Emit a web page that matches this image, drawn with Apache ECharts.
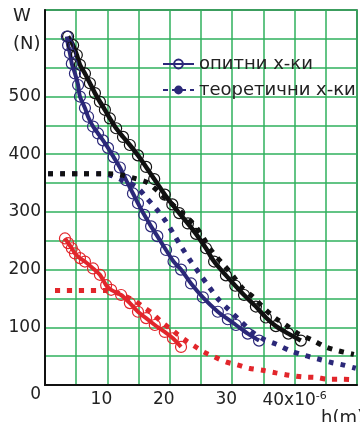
<!DOCTYPE html>
<html><head><meta charset="utf-8">
<script src="https://cdn.jsdelivr.net/npm/echarts@6/dist/echarts.min.js"></script>
<style>html,body{margin:0;padding:0;background:#fff}#c{width:360px;height:422px}</style>
</head><body><div id="c"></div>
<script>
// experimental (опитни) – black
const blackExpH = [3.7,4.5,5.1,5.6,6.4,7.2,8.0,8.8,9.6,10.4,11.4,12.5,13.6,14.9,16.2,17.5,19.2,20.4,21.5,22.9,24.2,25.8,27.1,29.0,30.5,31.9,33.8,35.4,37.0,39.0,41.0];
const blackExpW = [604,589,572,555,540,523,506,491,477,462,445,430,416,398,378,357,330,313,298,280,262,237,214,190,172,156,136,117,102,89,77];
// experimental – navy
const navyExpH = [3.5,3.7,4.0,4.3,4.8,5.3,5.6,6.4,6.9,7.7,8.5,9.3,10.1,11.0,12.0,13.0,14.1,14.9,15.9,17.0,18.0,19.4,20.6,21.8,23.4,25.3,27.7,29.3,30.6,32.5,34.3];
const navyExpW = [604,589,575,557,540,520,500,480,465,448,436,424,411,395,377,355,332,315,295,275,258,234,214,200,176,152,127,114,104,89,77];
// experimental – red
const redExpH = [3.2,3.7,4.3,4.8,5.6,6.4,7.7,8.8,9.8,10.6,12.2,13.6,14.9,16.2,17.6,19.2,20.5,21.8];
const redExpW = [254,246,237,228,220,214,202,191,173,165,156,142,127,116,104,92,81,66];
// theoretical (теоретични) – black
const blackTheoH = [0.5,3,6,8.8,10.4,12.2,14.4,16.4,18.2,19.9,22.3,24.2,26.8,28.4,30.0,31.6,33.5,35.1,36.9,38.6,40.4,42.8,45.0,47.1,49.5];
const blackTheoW = [366,366,366,366,366,364,358,351,335,318,295,274,231,211,191,168,151,133,116,104,90,78,66,59,53];
// theoretical – navy
const navyTheoH = [0.5,3,6,9,10.4,12.4,14.7,16.3,18.0,19.4,20.7,22.0,23.4,24.7,26.3,27.9,29.5,31.4,33.2,35.1,37.0,39.4,41.7,43.8,45.9,47.7,49.8];
const navyTheoW = [366,366,366,366,364,355,343,324,303,283,260,237,214,194,170,147,130,110,92,79,71,59,51,45,39,35,29];
// theoretical – red
const redTheoH = [1.6,3,5,7,8.5,10,11.5,13,14.2,15.8,17.1,18.7,19.9,21.2,22.7,24.3,25.5,27.1,29.0,30.8,32.7,35.1,37.0,39.1,41.2,43.4,45.5,47.6,49.8];
const redTheoW = [164,164,164,164,164,164,160,153,147,135,125,109,99,88,76,65,57,49,40,35,29,25,21,17,14,13,10,10,9];

const xLabels = {10:'10',20:'20',30:'30',40:'40x10'};
const yLabels = {0:'0',100:'100',200:'200',300:'300',400:'400',500:'500'};
const legendNames = ['опитни х-ки','теоретични х-ки'];

const NAVY = '#2b2879', BLACK = '#111111', RED = '#e2262b';
const FONT = 'DejaVu Sans';
const zip = (a,b) => a.map((v,i)=>[v,b[i]]);

function expSeries(name, color, h, w, width){
  return {type:'line', name:name, data:zip(h,w), smooth:0.3,
    symbol:'circle', symbolSize:11, showSymbol:true,
    lineStyle:{color:color, width:width},
    itemStyle:{color:'rgba(0,0,0,0)', borderColor:color, borderWidth:1.2},
    z:2, silent:true};
}
function theoSeries(name, color, h, w){
  return {type:'line', name:name, data:zip(h,w), smooth:0.3, symbol:'none',
    lineStyle:{color:color, width:5, type:[5,7], cap:'butt'}, z:3, silent:true};
}

const chart = echarts.init(document.getElementById('c'), null, {renderer:'canvas'});
chart.setOption({
  animation:false,
  backgroundColor:'#fff',
  title:[
    {text:'W\n(N)', left:8, top:-3, textStyle:{fontFamily:FONT, fontSize:18, fontWeight:'normal', color:'#222', lineHeight:28}},
    {text:'h(m)', left:316, top:404, textStyle:{fontFamily:FONT, fontSize:18, fontWeight:'normal', color:'#222'}}
  ],
  legend:{
    data:legendNames, orient:'vertical', left:157, top:50, itemWidth:31, itemHeight:11, itemGap:8,
    textStyle:{fontFamily:FONT, fontSize:18, color:'#222'}, selectedMode:false
  },
  grid:{left:45, right:2, top:10, bottom:37, show:true, borderColor:'#333', borderWidth:1.5},
  xAxis:{type:'value', min:0, max:50, interval:5,
    axisLine:{show:true, lineStyle:{color:'#111', width:2}},
    axisTick:{show:false},
    splitLine:{show:true, lineStyle:{color:'#2fb05c', width:1.5}},
    axisLabel:{margin:6, fontFamily:FONT, fontSize:17, color:'#222',
      formatter:v => { if(!xLabels[v]) return ''; return v===40 ? '{b|'+xLabels[v]+'}{s|-6}' : '{a|'+xLabels[v]+'}'; },
      rich:{a:{fontFamily:FONT, fontSize:17, color:'#222', padding:[0,12,0,0]},
            b:{fontFamily:FONT, fontSize:17, color:'#222'},
            s:{fontFamily:FONT, fontSize:11, color:'#222', verticalAlign:'top', padding:[0,0,8,0]}}}
  },
  yAxis:{type:'value', min:0, max:650, interval:50,
    axisLine:{show:true, lineStyle:{color:'#111', width:2}},
    axisTick:{show:false},
    splitLine:{show:true, lineStyle:{color:'#2fb05c', width:1.5}},
    axisLabel:{margin:4, fontFamily:FONT, fontSize:17, color:'#222',
      formatter:v => (yLabels[v] === undefined) ? '' : (v===0 ? '{z|0}' : yLabels[v]),
      rich:{z:{fontFamily:FONT, fontSize:17, color:'#222', padding:[20,0,0,0]}}}
  },
  series:[
    expSeries('b1', BLACK, blackExpH, blackExpW, 4.5),
    expSeries('n1', NAVY, navyExpH, navyExpW, 4),
    expSeries('r1', RED, redExpH, redExpW, 4),
    theoSeries('r2', RED, redTheoH, redTheoW),
    theoSeries('n2', NAVY, navyTheoH, navyTheoW),
    theoSeries('b2', BLACK, blackTheoH, blackTheoW),
    {type:'line', name:legendNames[0], data:[], symbol:'circle', symbolSize:11,
      lineStyle:{color:NAVY, width:5}, itemStyle:{color:'rgba(0,0,0,0)', borderColor:NAVY, borderWidth:1.2}},
    {type:'line', name:legendNames[1], data:[], symbol:'none',
      lineStyle:{color:NAVY, width:5, type:[5,4]}, itemStyle:{color:NAVY}}
  ]
});
</script></body></html>
